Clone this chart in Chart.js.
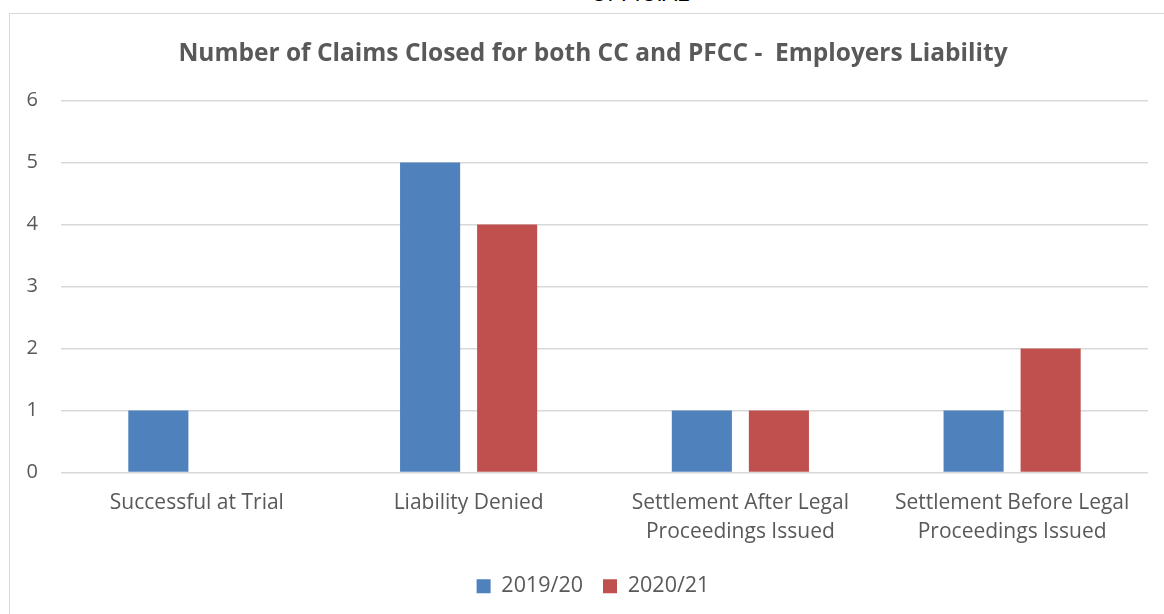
<!DOCTYPE html>
<html>
<head>
<meta charset="utf-8">
<script src="https://cdn.jsdelivr.net/npm/chart.js@4/dist/chart.umd.min.js"></script>
<style>
html,body{margin:0;padding:0;width:1164px;height:614px;overflow:hidden;background:#fff;}
#official{position:absolute;left:0;width:1280px;top:-19px;text-align:center;font-family:"Liberation Sans",Arial,sans-serif;font-size:22px;color:#000;line-height:26px;}
#frame{position:absolute;left:9px;top:13px;width:1200px;height:700px;border:1px solid #d9d9d9;box-sizing:border-box;}
#wrap{position:absolute;left:9px;top:13px;width:1168px;height:610px;}
</style>
</head>
<body>
<div id="official">OFFICIAL</div>
<div id="frame"></div>
<div id="wrap"><canvas id="c" width="1168" height="610"></canvas></div>
<script>
const categories = [
  "Successful at Trial",
  "Liability Denied",
  ["Settlement After Legal", "Proceedings Issued"],
  ["Settlement Before Legal", "Proceedings Issued"]
];
const seriesNames = ["2019/20", "2020/21"];
const values2019 = [1, 5, 1, 1];
const values2020 = [0, 4, 1, 2];
const yTicks = [0, 1, 2, 3, 4, 5, 6];

const FONT = "'Open Sans', sans-serif";
const TXT = "#595959";

new Chart(document.getElementById("c"), {
  type: "bar",
  data: {
    labels: categories,
    datasets: [
      {label: seriesNames[0], data: values2019, backgroundColor: "#4F81BD", categoryPercentage: 0.567, barPercentage: 0.78},
      {label: seriesNames[1], data: values2020, backgroundColor: "#C0504D", categoryPercentage: 0.567, barPercentage: 0.78}
    ]
  },
  options: {
    responsive: false,
    animation: false,
    layout: {padding: {left: 0, right: 0, top: 0, bottom: 16}},
    plugins: {
      title: {
        display: true,
        text: "Number of Claims Closed for both CC and PFCC -  Employers Liability",
        color: TXT,
        font: {family: FONT, size: 24.5, weight: "bold", lineHeight: 1.2},
        padding: {top: 26, bottom: 32}
      },
      legend: {
        position: "bottom",
        labels: {color: TXT, font: {family: FONT, size: 21.5}, boxWidth: 14, boxHeight: 14, padding: 20},
      },
      tooltip: {enabled: false}
    },
    scales: {
      x: {
        grid: {display: false, drawTicks: false},
        border: {display: false},
        ticks: {color: TXT, font: {family: FONT, size: 21, lineHeight: 1.38}, padding: 16, maxRotation: 0, autoSkip: false},
        afterFit: s => { s.height = 83; }
      },
      y: {
        min: 0, max: 6,
        afterBuildTicks: s => { s.ticks = yTicks.map(v => ({value: v})); },
        grid: {color: "#d9d9d9", lineWidth: 1.5, drawTicks: false},
        border: {display: false},
        ticks: {color: TXT, font: {family: FONT, size: 20}, padding: 23},
        afterFit: s => { s.width = 52; }
      },
      yRightSpace: {
        position: "right",
        display: true,
        grid: {display: false, drawTicks: false},
        border: {display: false},
        ticks: {display: false},
        afterFit: s => { s.width = 29; }
      }
    }
  }
});
</script>
</body>
</html>
